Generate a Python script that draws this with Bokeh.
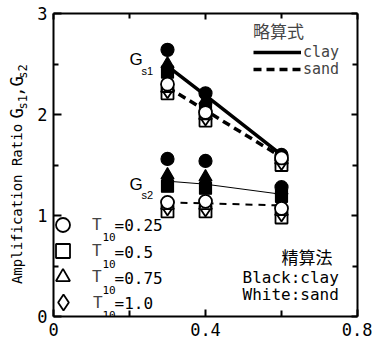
import math
from bokeh.plotting import figure
from bokeh.layouts import row
from bokeh.models import Label, Legend, LegendItem, FixedTicker, LinearAxis, CustomJSTickFormatter
from bokeh.core.properties import value
from bokeh.embed import file_html
from bokeh.resources import INLINE

# ---------------- data ----------------
x_vals = [0.3, 0.4, 0.6]

# G_s1, clay (black markers), by T10
gs1_clay_t025 = [2.64, 2.21, 1.60]
gs1_clay_t050 = [2.42, 2.06, 1.53]
gs1_clay_t075 = [2.50, 2.14, 1.58]
gs1_clay_t100 = [2.46, 2.10, 1.56]
# G_s1, sand (white markers)
gs1_sand_t025 = [2.30, 2.02, 1.57]
gs1_sand_t050 = [2.21, 1.94, 1.50]
gs1_sand_t075 = [2.26, 1.99, 1.55]
gs1_sand_t100 = [2.24, 1.97, 1.53]
# G_s2, clay
gs2_clay_t025 = [1.56, 1.54, 1.28]
gs2_clay_t050 = [1.29, 1.27, 1.19]
gs2_clay_t075 = [1.40, 1.38, 1.25]
gs2_clay_t100 = [1.35, 1.33, 1.22]
# G_s2, sand
gs2_sand_t025 = [1.13, 1.14, 1.07]
gs2_sand_t050 = [1.04, 1.04, 0.98]
gs2_sand_t075 = [1.10, 1.10, 1.04]
gs2_sand_t100 = [1.08, 1.07, 1.02]

# approximate formula (略算式) lines
gs1_clay_approx = [2.48, 2.19, 1.60]
gs1_sand_approx = [2.27, 2.04, 1.58]
gs2_clay_approx = [1.34, 1.31, 1.21]
gs2_sand_approx = [1.13, 1.12, 1.10]

t10_labels = ["=0.25", "=0.5", "=0.75", "=1.0"]
x_major = [0, 0.4, 0.8]
x_minor = [0.2, 0.6]
y_major = [0, 1, 2, 3]
y_minor = [0.5, 1.5, 2.5]

MONO = "DejaVu Sans Mono"
SANS = "Liberation Sans"
JP = "Noto Sans CJK JP"

# ---------------- layout geometry ----------------
W, H = 372, 343
LW = 30                      # width of the y-label strip
L, R, T, B = 53, 15, 13, 27  # frame borders in page pixels
FW = W - L - R
FH = H - T - B

# ---------------- y-label strip ----------------
lf = figure(width=LW, height=H, x_range=(0, LW), y_range=(0, H),
            output_backend="svg", toolbar_location=None,
            x_axis_type=None, y_axis_type=None,
            min_border_left=0, min_border_right=0, min_border_top=0, min_border_bottom=0)
lf.title.visible = False
lf.grid.visible = False
lf.outline_line_color = None
lf.background_fill_color = "white"
lf.border_fill_color = "white"

ANG = math.pi / 2
J = 125.0   # junction (page y px) between "Amplification Ratio" and "G_s1,G_s2"
lf.text(x=[16], y=[H - J], text=["Amplification Ratio"], angle=ANG,
        text_font=value(MONO), text_font_size="14px", text_color="black",
        text_align="right", text_baseline="middle")
g_parts = ["G", "s1", ",G", "s2"]
g_sizes = [17, 12, 17, 12]
g_sub = [0, 6, 0, 6]
py = J - 6
for part, fs, sub in zip(g_parts, g_sizes, g_sub):
    lf.text(x=[16 + sub], y=[H - py], text=[part], angle=ANG,
            text_font=value(MONO), text_font_size=f"{fs}px", text_color="black",
            text_align="left", text_baseline="middle")
    py -= len(part) * 0.602 * fs

# ---------------- main figure ----------------
p = figure(width=W - LW, height=H, x_range=(0, 0.8), y_range=(0, 3),
           output_backend="svg", toolbar_location=None,
           min_border_left=L - LW, min_border_right=R, min_border_top=T, min_border_bottom=B)
p.grid.visible = False
p.outline_line_color = None
p.background_fill_color = "white"
p.border_fill_color = "white"

def style_axis(ax, major_len, minor_len, labels=True):
    ax.axis_line_width = 2
    ax.axis_line_color = "black"
    ax.major_tick_in = major_len
    ax.major_tick_out = 0
    ax.minor_tick_in = minor_len
    ax.minor_tick_out = 0
    ax.major_tick_line_width = 2
    ax.minor_tick_line_width = 2
    if labels:
        ax.major_label_text_font = MONO
        ax.major_label_text_font_size = "17px"
        ax.major_label_text_color = "black"
        ax.major_label_standoff = 6
    else:
        ax.formatter = CustomJSTickFormatter(code="return ''")
        ax.major_label_standoff = 0

p.xaxis.ticker = FixedTicker(ticks=x_major, minor_ticks=x_minor)
p.yaxis.ticker = FixedTicker(ticks=y_major, minor_ticks=y_minor)
p.xaxis.major_label_overrides = {0: "0"}
for ax in p.xaxis:
    style_axis(ax, 7, 6)
for ax in p.yaxis:
    style_axis(ax, 8, 5)

top_ax = LinearAxis(ticker=FixedTicker(ticks=x_major, minor_ticks=x_minor))
style_axis(top_ax, 6, 5, labels=False)
p.add_layout(top_ax, "above")
right_ax = LinearAxis(ticker=FixedTicker(ticks=y_major, minor_ticks=y_minor))
style_axis(right_ax, 6, 5, labels=False)
p.add_layout(right_ax, "right")

# ---------------- lines ----------------
r_l1c = p.line(x_vals, gs1_clay_approx, line_width=3.5, line_color="black")
r_l1s = p.line(x_vals, gs1_sand_approx, line_width=3.5, line_color="black", line_dash="8 5")
r_l2c = p.line(x_vals, gs2_clay_approx, line_width=1, line_color="black")
r_l2s = p.line(x_vals, gs2_sand_approx, line_width=2, line_color="black", line_dash="7 6")

# ---------------- markers ----------------
def marks(ys, marker, fill, size, lw=1.2):
    return p.scatter(x_vals, ys, marker=marker, size=size,
                     fill_color=fill, line_color="black", line_width=lw)

# clay (black)
for ys in (gs1_clay_t050, gs2_clay_t050):
    marks(ys, "square", "black", 12)
for ys in (gs1_clay_t100, gs2_clay_t100):
    marks(ys, "diamond", "black", 16)
for ys in (gs1_clay_t075, gs2_clay_t075):
    marks(ys, "triangle", "black", 13)
for ys in (gs1_clay_t025, gs2_clay_t025):
    marks(ys, "circle", "black", 13)
# sand (white)
s_sq = [marks(ys, "square", "white", 12, lw=1.8) for ys in (gs1_sand_t050, gs2_sand_t050)]
s_di = [marks(ys, "diamond", "white", 16, lw=1.8) for ys in (gs1_sand_t100, gs2_sand_t100)]
s_tr = [marks(ys, "triangle", "white", 13, lw=1.8) for ys in (gs1_sand_t075, gs2_sand_t075)]
s_ci = [marks(ys, "circle", "white", 13, lw=1.8) for ys in (gs1_sand_t025, gs2_sand_t025)]

# ---------------- legends ----------------
def bare_legend(lg):
    lg.padding = 0
    lg.margin = 0
    lg.spacing = 0
    lg.border_line_color = None
    lg.background_fill_alpha = 0
    return lg

# 略算式 legend (title + clay), then sand
lg1 = bare_legend(Legend(items=[LegendItem(label="clay", renderers=[r_l1c])], title="略算式"))
lg1.title_text_font = JP
lg1.title_text_font_size = "17px"
lg1.title_text_font_style = "normal"
lg1.title_standoff = 0
lg2 = bare_legend(Legend(items=[LegendItem(label="sand", renderers=[r_l1s])]))
for lg in (lg1, lg2):
    lg.label_text_font = MONO
    lg.label_text_font_size = "15px"
    lg.glyph_width = 48
    lg.glyph_height = 18
    lg.label_height = 18
    lg.label_standoff = 2
lg1.location = (200, 316 - 61)
lg2.location = (200, 316 - 78)
p.add_layout(lg1)
p.add_layout(lg2)

# T10 marker key: one legend per symbol
key_y = [224, 251, 277, 302]
key_r = [s_ci[0], s_sq[0], s_tr[0], s_di[0]]
key_box = [35, 35, 35, 40]
for cy, rr, bx in zip(key_y, key_r, key_box):
    lg = bare_legend(Legend(items=[LegendItem(label="T", renderers=[rr])]))
    lg.glyph_width = bx
    lg.glyph_height = bx
    lg.label_height = bx
    lg.label_text_font = MONO
    lg.label_text_font_size = "16px"
    lg.label_standoff = int(12 - (bx - 35) // 2)
    lg.location = (int(round(63 - bx / 2 - L)), int(round(316 - cy - bx / 2)))
    p.add_layout(lg)

# ---------------- text annotations ----------------
def sx(px):
    return (px - L) / FW * 0.8
def sy(py_):
    return (H - B - py_) / FH * 3.0

def txt(px, py_, s, font, size, align="left"):
    p.add_layout(Label(x=sx(px), y=sy(py_), text=s, text_font=font,
                       text_font_size=f"{size}px", text_color="black",
                       text_align=align, text_baseline="middle"))

# G_s1 / G_s2 tags
txt(129, 59, "G", SANS, 17)
txt(141, 70, "s1", SANS, 11)
txt(129, 184, "G", SANS, 17)
txt(141, 194, "s2", SANS, 11)

# T10 subscripts and values
for cy, lab in zip(key_y, t10_labels):
    txt(102, cy + 12, "10", MONO, 11)
    txt(114, cy + 1, lab, MONO, 16)

# 精算法 block
txt(281, 256, "精算法", JP, 17)
txt(242, 277, "Black:clay", MONO, 16)
txt(242, 294, "White:sand", MONO, 16)

layout = row(lf, p)
open("out.html", "w").write(file_html(layout, INLINE))
